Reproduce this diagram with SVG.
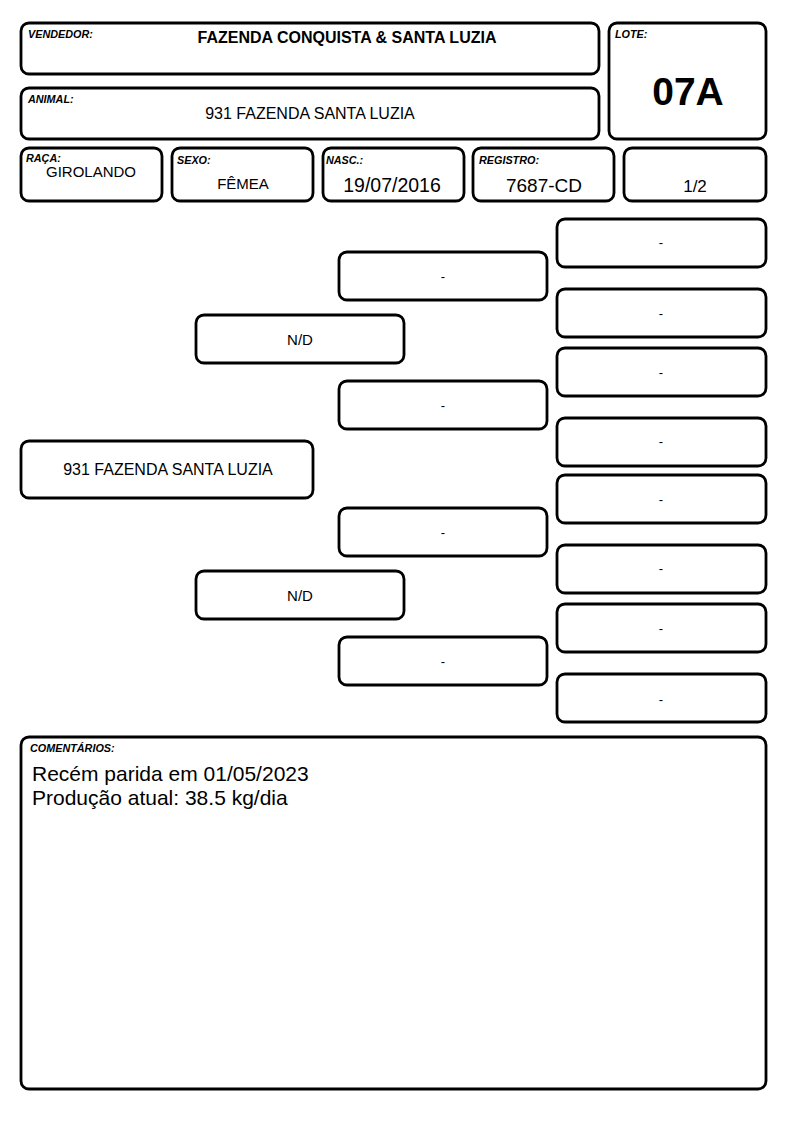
<svg xmlns="http://www.w3.org/2000/svg" width="794" height="1123" viewBox="0 0 794 1123">
<style>
.b{fill:#fff;stroke:#000;stroke-width:2.8}
.l{font-family:"Liberation Sans",Arial,sans-serif;font-size:10.8px;font-weight:bold;font-style:italic}
.t{font-family:"Liberation Sans",Arial,sans-serif;text-anchor:middle}
.d{font-family:"Liberation Sans",Arial,sans-serif;text-anchor:middle;font-size:13px}
</style>
<rect width="794" height="1123" fill="#fff"/>
<g id="vendedor"><rect class="b" x="21" y="23" width="578" height="51" rx="8"/><text class="l" x="28" y="38">VENDEDOR:</text><text class="t" x="347" y="43" font-size="16" font-weight="bold">FAZENDA CONQUISTA &amp; SANTA LUZIA</text></g>
<g id="animal"><rect class="b" x="21" y="88" width="578" height="51" rx="8"/><text class="l" x="28" y="103">ANIMAL:</text><text class="t" x="310" y="119" font-size="16">931 FAZENDA SANTA LUZIA</text></g>
<g id="lote"><rect class="b" x="609" y="23" width="157" height="116" rx="8"/><text class="l" x="615" y="38">LOTE:</text><text class="t" x="688" y="105" font-size="39" font-weight="bold">07A</text></g>
<g id="raca"><rect class="b" x="21" y="148" width="141" height="53" rx="8"/><text class="l" x="26" y="162">RAÇA:</text><text class="t" x="91" y="177" font-size="15">GIROLANDO</text></g>
<g id="sexo"><rect class="b" x="172" y="148" width="141" height="53" rx="8"/><text class="l" x="177" y="164">SEXO:</text><text class="t" x="243" y="189" font-size="15">FÊMEA</text></g>
<g id="nasc"><rect class="b" x="323" y="148" width="141" height="53" rx="8"/><text class="l" x="326" y="164">NASC.:</text><text class="t" x="392" y="192" font-size="19.5">19/07/2016</text></g>
<g id="registro"><rect class="b" x="473" y="148" width="141" height="53" rx="8"/><text class="l" x="479" y="164">REGISTRO:</text><text class="t" x="544" y="192" font-size="19">7687-CD</text></g>
<g id="fracao"><rect class="b" x="624" y="148" width="142" height="53" rx="8"/><text class="t" x="695" y="192" font-size="17">1/2</text></g>
<g id="ped-animal"><rect class="b" x="21" y="441" width="292" height="57" rx="8"/><text class="t" x="168" y="475" font-size="16">931 FAZENDA SANTA LUZIA</text></g>
<g id="pai"><rect class="b" x="196" y="315" width="208" height="48" rx="8"/><text class="t" x="300" y="345" font-size="15">N/D</text></g>
<g id="mae"><rect class="b" x="196" y="571" width="208" height="48" rx="8"/><text class="t" x="300" y="601" font-size="15">N/D</text></g>
<g id="avo1"><rect class="b" x="339" y="252" width="208" height="48" rx="8"/><text class="d" x="443" y="281">-</text></g>
<g id="avo2"><rect class="b" x="339" y="381" width="208" height="48" rx="8"/><text class="d" x="443" y="410">-</text></g>
<g id="avo3"><rect class="b" x="339" y="508" width="208" height="48" rx="8"/><text class="d" x="443" y="537">-</text></g>
<g id="avo4"><rect class="b" x="339" y="637" width="208" height="48" rx="8"/><text class="d" x="443" y="666">-</text></g>
<g id="bis1"><rect class="b" x="557" y="219" width="209" height="48" rx="8"/><text class="d" x="661" y="247">-</text></g>
<g id="bis2"><rect class="b" x="557" y="289" width="209" height="48" rx="8"/><text class="d" x="661" y="318">-</text></g>
<g id="bis3"><rect class="b" x="557" y="348" width="209" height="48" rx="8"/><text class="d" x="661" y="377">-</text></g>
<g id="bis4"><rect class="b" x="557" y="418" width="209" height="48" rx="8"/><text class="d" x="661" y="446">-</text></g>
<g id="bis5"><rect class="b" x="557" y="475" width="209" height="48" rx="8"/><text class="d" x="661" y="504">-</text></g>
<g id="bis6"><rect class="b" x="557" y="545" width="209" height="48" rx="8"/><text class="d" x="661" y="573">-</text></g>
<g id="bis7"><rect class="b" x="557" y="604" width="209" height="48" rx="8"/><text class="d" x="661" y="633">-</text></g>
<g id="bis8"><rect class="b" x="557" y="674" width="209" height="48" rx="8"/><text class="d" x="661" y="704">-</text></g>
<g id="connectors"></g>
<g id="comentarios"><rect class="b" x="21" y="737" width="745" height="352" rx="8"/><text class="l" x="30" y="752">COMENTÁRIOS:</text><text font-family="Liberation Sans,Arial,sans-serif" font-size="21" x="32" y="781">Recém parida em 01/05/2023</text><text font-family="Liberation Sans,Arial,sans-serif" font-size="21" x="32" y="805">Produção atual: 38.5 kg/dia</text></g>
</svg>
